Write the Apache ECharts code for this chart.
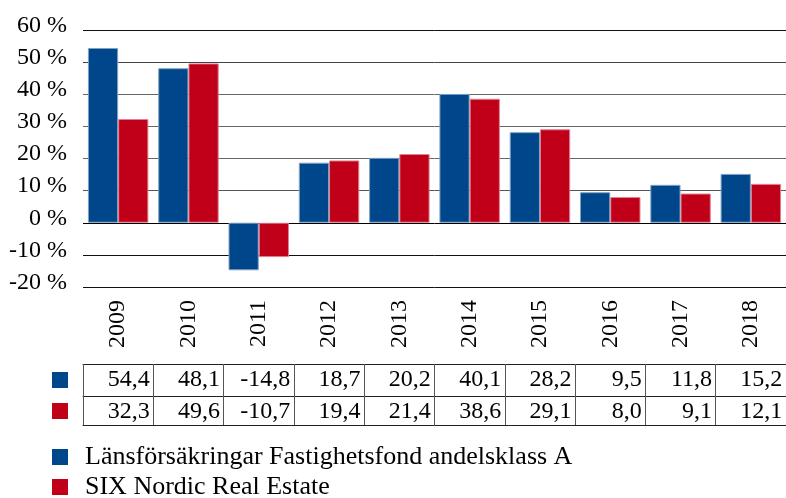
<!DOCTYPE html>
<html>
<head>
<meta charset="utf-8">
<script src="https://cdn.jsdelivr.net/npm/echarts@6/dist/echarts.min.js"></script>
<style>
html,body{margin:0;padding:0;background:#fff}
#main{width:786px;height:498px}
</style>
</head>
<body>
<div id="main"></div>
<script>
var years = ['2009','2010','2011','2012','2013','2014','2015','2016','2017','2018']
var fundValues = [54.4, 48.1, -14.8, 18.7, 20.2, 40.1, 28.2, 9.5, 11.8, 15.2]
var indexValues = [32.3, 49.6, -10.7, 19.4, 21.4, 38.6, 29.1, 8.0, 9.1, 12.1]
var seriesNames = ['Länsförsäkringar Fastighetsfond andelsklass A', 'SIX Nordic Real Estate']
var colors = ['#00468a', '#c00018']

var FONT = '"Liberation Serif", "Times New Roman", serif'

function fmt(v) {
	return v.toFixed(1).replace('.', ',')
}

// table row axis: labels come from the series values
function tableAxis(values, offset, tickLen) {
	return {
		type: 'category',
		data: years,
		position: 'bottom',
		offset: offset,
		gridIndex: 0,
		axisLine: { show: true, onZero: false, lineStyle: { color: '#222', width: 1 } },
		axisTick: { show: tickLen > 0, length: tickLen, lineStyle: { color: '#555', width: 1 } },
		splitLine: { show: false },
		axisLabel: {
			show: values != null,
			margin: 0,
			interval: 0,
			formatter: function (v, i) {
				return '{a|' + fmt(values[i]) + '}'
			},
			rich: {
				a: { width: 63, align: 'right', lineHeight: 32, fontSize: 24, fontFamily: FONT, color: '#000' }
			}
		}
	}
}

var myChart = echarts.init(document.getElementById('main'))
myChart.setOption({
	animation: false,
	textStyle: { fontFamily: FONT },
	grid: { left: 83, right: 0, top: 30, bottom: 211 },
	legend: {
		orient: 'vertical',
		left: 52,
		top: 444,
		height: 200,
		padding: 0,
		itemWidth: 16,
		itemHeight: 16,
		itemGap: 4,
		icon: 'rect',
		itemStyle: { borderWidth: 0 },
		textStyle: { fontSize: 26, fontFamily: FONT, color: '#000', padding: [0, 0, 0, 12] },
		data: seriesNames
	},
	xAxis: [
		{
			type: 'category',
			data: years,
			axisLine: { show: false },
			axisTick: { show: false },
			axisLabel: {
				rotate: 90,
				margin: 13,
				interval: 0,
				fontSize: 24,
				fontFamily: FONT,
				color: '#000'
			}
		},
		tableAxis(fundValues, 77, 32),
		tableAxis(indexValues, 109, 29),
		tableAxis(null, 138, 0)
	],
	yAxis: {
		type: 'value',
		min: -20,
		max: 60,
		interval: 10,
		axisLine: { show: false },
		axisTick: { show: false },
		axisLabel: {
			formatter: '{value} %',
			margin: 16,
			fontSize: 24,
			lineHeight: 9,
			verticalAlign: 'bottom',
			showMinLabel: true,
			showMaxLabel: true,
			fontFamily: FONT,
			color: '#000'
		},
		splitLine: {
			lineStyle: {
				color: ['#111', '#111', '#000', '#555', '#666', '#666', '#666', '#444', '#111'],
				width: 1
			}
		}
	},
	graphic: [
		{ type: 'rect', left: 52, top: 372, shape: { width: 16, height: 16 }, style: { fill: colors[0] } },
		{ type: 'rect', left: 52, top: 403, shape: { width: 16, height: 16 }, style: { fill: colors[1] } }
	],
	series: [
		{
			name: seriesNames[0],
			type: 'bar',
			data: fundValues,
			barWidth: '43%',
			barGap: '0%',
			itemStyle: { color: colors[0], borderColor: '#7fa3c5', borderWidth: 1 }
		},
		{
			name: seriesNames[1],
			type: 'bar',
			data: indexValues,
			barWidth: '43%',
			barGap: '0%',
			itemStyle: { color: colors[1], borderColor: '#e08090', borderWidth: 1 }
		}
	]
})
</script>
</body>
</html>
